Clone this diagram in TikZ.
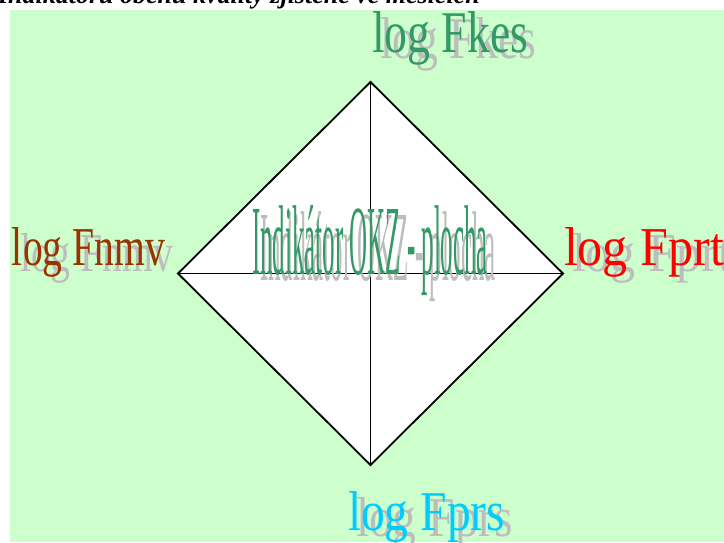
\documentclass[tikz,border=0pt]{standalone}
\usepackage{fontspec}
\setmainfont{Liberation Serif}
\usepackage{graphicx}
\definecolor{bggreen}{HTML}{CCFFCC}
\definecolor{lblgreen}{HTML}{339966}
\definecolor{lblbrown}{HTML}{993300}
\definecolor{lblred}{HTML}{FF0000}
\definecolor{lblcyan}{HTML}{00CCFF}
\definecolor{shadowgray}{HTML}{BDBDBD}
\newcommand{\fitlbl}[3]{\resizebox{#1}{#2}{#3}}
\begin{document}
\begin{tikzpicture}[x=1pt,y=-1pt,
  lbl/.style={inner sep=0pt, outer sep=0pt, anchor=base west},
  shd/.style={lbl, text=shadowgray},
  edgeline/.style={draw=black, line width=1.8pt, line join=miter}]
\useasboundingbox (0,0) rectangle (724,542);
\clip (0,0) rectangle (724,542);
\fill[bggreen] (10,10) rectangle (724,542);
% cut-off title
\node[inner sep=0pt, anchor=base east, font=\fontsize{26}{28}\selectfont\bfseries\itshape] (title) at (480,3) {Indikátoru oběhu kvality zjištěné ve měsících};
% diamond
\coordinate (top) at (370.5,82);
\coordinate (bot) at (370.5,465);
\coordinate (lft) at (178,273.5);
\coordinate (rgt) at (563,273.5);
\filldraw[edgeline, fill=white] (top) -- (rgt) -- (bot) -- (lft) -- cycle;
\draw[edgeline] (top) -- (bot);
\draw[edgeline] (lft) -- (rgt);
% labels with shadows
\node[shd] (keshadow) at (380,58) {\fitlbl{156pt}{41pt}{log Fkes}};
\node[lbl, text=lblgreen] (kes) at (372,52) {\fitlbl{156pt}{41pt}{log Fkes}};
\node[shd] (nmvshadow) at (20,271) {\fitlbl{153pt}{38pt}{log Fnmv}};
\node[lbl, text=lblbrown] (nmv) at (12,265) {\fitlbl{153pt}{38pt}{log Fnmv}};
\node[shd] (prtshadow) at (572,271) {\fitlbl{160pt}{38pt}{log Fprt}};
\node[lbl, text=lblred] (prt) at (564,265) {\fitlbl{160pt}{38pt}{log Fprt}};
\node[shd] (prsshadow) at (356,536) {\fitlbl{157pt}{39pt}{log Fprs}};
\node[lbl, text=lblcyan] (prs) at (348,530) {\fitlbl{157pt}{39pt}{log Fprs}};
\node[shd] (okzshadow) at (260,280) {\fitlbl{236pt}{69pt}{Indikátor OKZ - plocha}};
\node[lbl, text=lblgreen] (okz) at (252,274) {\fitlbl{236pt}{69pt}{Indikátor OKZ - plocha}};
\end{tikzpicture}
\end{document}
